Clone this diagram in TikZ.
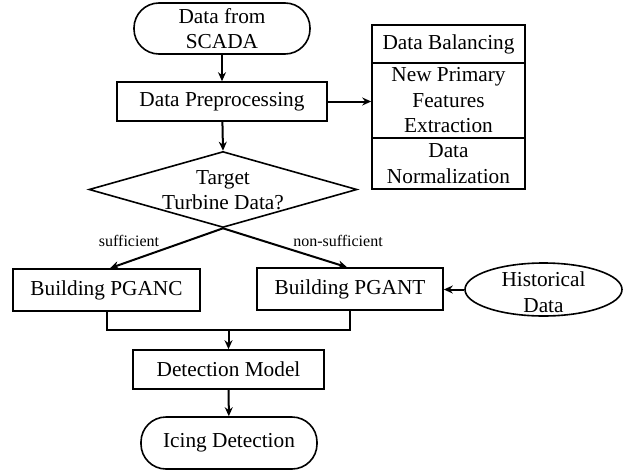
\documentclass[tikz,border=0pt]{standalone}
\usepackage{fontspec}
\setmainfont{Liberation Serif}
\usetikzlibrary{shapes.geometric,arrows.meta}
\begin{document}
\begin{tikzpicture}[x=1pt,y=-1pt,
 base/.style={draw=black,line width=1.6pt,inner sep=0pt,align=center,font=\fontsize{21.3}{25.5}\selectfont},
 box/.style={base,rectangle},
 term/.style={base,rectangle,rounded corners=25pt},
 plain/.style={inner sep=0pt,align=center,font=\fontsize{21.3}{25.5}\selectfont},
 arr/.style={line width=2pt,-{Stealth[length=9pt,width=8pt]}},
 link/.style={line width=2pt},
 lbl/.style={font=\fontsize{16}{19}\selectfont,inner sep=0pt}]
\useasboundingbox (0,0) rectangle (623,474);
% top
\node[term,minimum width=176pt,minimum height=51pt] (scada) at (222,28.5) {Data from\\SCADA};
\node[box,minimum width=210pt,minimum height=39pt] (prep) at (222,101.5) {Data Preprocessing};
% stack
\node[box,minimum width=153pt,minimum height=38pt] (bal) at (448.5,44) {Data Balancing};
\node[box,minimum width=153pt,minimum height=75pt] (feat) at (448.5,100.5) {New Primary\\Features\\Extraction};
\node[box,minimum width=153pt,minimum height=51pt] (norm) at (448.5,163.5) {Data\\Normalization};
% decision
\node[base,shape=diamond,minimum width=268pt,minimum height=76pt] (dec) at (223,189.5) {};
\node[plain] (dectext) at (223,190) {Target\\Turbine Data?};
% builders
\node[box,minimum width=187pt,minimum height=42pt] (pganc) at (106.5,290) {Building PGANC};
\node[box,minimum width=186pt,minimum height=42pt] (pgant) at (350,289) {Building PGANT};
\node[base,shape=ellipse,minimum width=157pt,minimum height=53pt] (hist) at (543.5,289.5) {};
\node[plain] (histtext) at (543.5,292) {Historical\\Data};
% bottom
\node[box,minimum width=191pt,minimum height=39pt] (det) at (228.5,369.5) {Detection Model};
\node[term,minimum width=176pt,minimum height=52pt] (ice) at (229,443) {Icing Detection};
% connectors
\draw[arr] (scada) -- (prep);
\draw[arr] (prep.east) -- (prep.east -| feat.west);
\draw[arr] (prep) -- (dec.north);
\draw[arr] (dec.south) -- ([xshift=3.5pt]pganc.north);
\draw[arr] (dec.south) -- ([xshift=-3pt]pgant.north);
\node[lbl] (suff) at (129,241) {sufficient};
\node[lbl] (nsuff) at (338,241) {non-sufficient};
\draw[arr] (hist.west) -- (hist.west -| pgant.east);
\coordinate (mj) at (228.5,330);
\draw[link] (pganc.south) |- (mj) -| (pgant.south);
\draw[arr] (mj) -- (det.north);
\draw[arr] (det) -- (ice);
\end{tikzpicture}
\end{document}
